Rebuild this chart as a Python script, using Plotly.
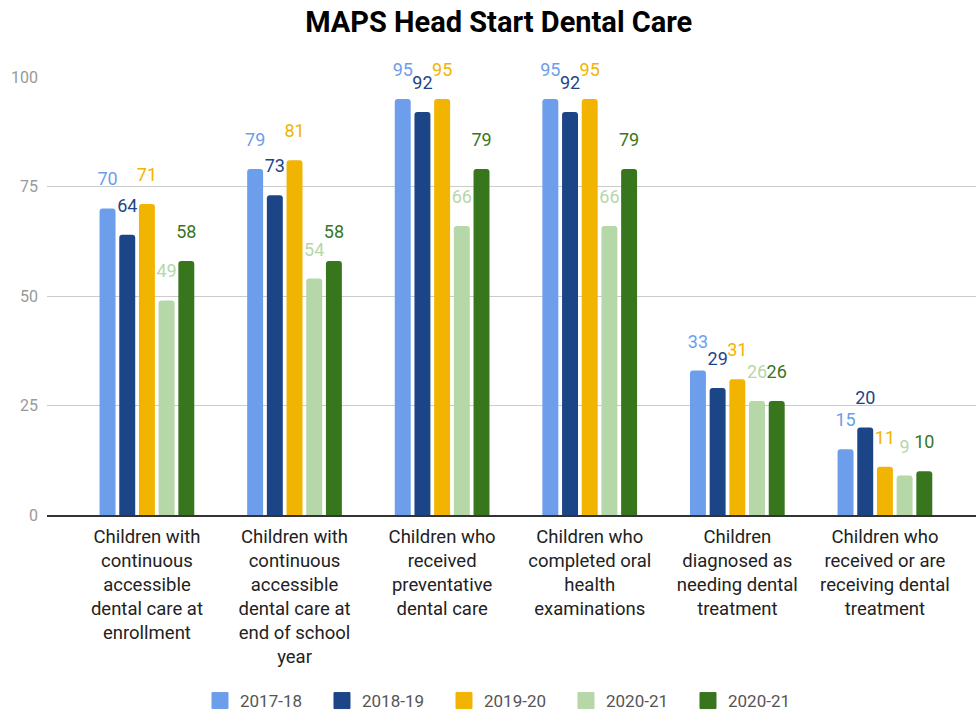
import plotly.graph_objects as go

categories = [
    "Children with<br>continuous<br>accessible<br>dental care at<br>enrollment",
    "Children with<br>continuous<br>accessible<br>dental care at<br>end of school<br>year",
    "Children who<br>received<br>preventative<br>dental care",
    "Children who<br>completed oral<br>health<br>examinations",
    "Children<br>diagnosed as<br>needing dental<br>treatment",
    "Children who<br>received or are<br>receiving dental<br>treatment",
]
series_names = ["2017-18", "2018-19", "2019-20", "2020-21", "2020-21"]
v_2017_18 = [70, 79, 95, 95, 33, 15]
v_2018_19 = [64, 73, 92, 92, 29, 20]
v_2019_20 = [71, 81, 95, 95, 31, 11]
v_2020_21a = [49, 54, 66, 66, 26, 9]
v_2020_21b = [58, 58, 79, 79, 26, 10]
series_values = [v_2017_18, v_2018_19, v_2019_20, v_2020_21a, v_2020_21b]
colors = ["#6d9eeb", "#1c4587", "#f1b400", "#b6d7a8", "#38761d"]
y_ticks = [0, 25, 50, 75, 100]

FONT = "Roboto, 'Noto Sans', sans-serif"

fig = go.Figure()
for i, (name, vals, col) in enumerate(zip(series_names, series_values, colors)):
    fig.add_trace(go.Bar(
        x=categories, y=vals, name=name,
        marker=dict(color=col, line=dict(width=0)),
        # value on first line (18px); a small blank line below lifts it above the bar
        text=[f"<span style='font-size:18px'>{v}</span><br>\u00a0" for v in vals],
        textposition="outside",
        constraintext="none",
        textfont=dict(color=col, size=13, family=FONT),
        cliponaxis=False,
        hoverinfo="skip",
        showlegend=False,
        legendgroup=f"s{i}",
    ))
    # legend proxy with a larger square swatch
    fig.add_trace(go.Scatter(
        x=[None], y=[None], mode="markers", name=name,
        marker=dict(symbol="square", size=16, color=col, line=dict(width=1, color=col)),
        showlegend=True, legendgroup=f"s{i}", hoverinfo="skip",
    ))

fig.update_layout(
    width=976, height=711,
    barmode="group", bargap=0.333, bargroupgap=0.19,
    barcornerradius=3,
    paper_bgcolor="white", plot_bgcolor="white",
    margin=dict(l=47, r=0, t=77, b=196, autoexpand=False),
    title=dict(text="<b>MAPS Head Start Dental Care</b>", x=0.511, xanchor="center",
               y=0.969, yanchor="middle",
               font=dict(family=FONT, size=29, color="#000000")),
    font=dict(family=FONT),
    uniformtext=dict(mode=False),
    showlegend=True,
    legend=dict(orientation="h", x=0.493, xanchor="center", y=-0.4247, yanchor="middle",
                xref="paper", yref="paper",
                font=dict(size=17, color="#555555", family=FONT),
                entrywidth=77, entrywidthmode="pixels", traceorder="normal"),
)
fig.update_xaxes(
    type="category", range=[-0.677, 5.617],
    showgrid=False, showline=True, linecolor="#333333", linewidth=1.5,
    ticks="", tickfont=dict(size=18.5, color="#222222", family=FONT),
    ticklabelstandoff=4,
)
fig.update_yaxes(
    range=[0, 100], tickvals=y_ticks, ticktext=[str(t) for t in y_ticks],
    showgrid=True, gridcolor="#cccccc", gridwidth=1,
    zeroline=False, showline=False, ticks="",
    tickfont=dict(size=16, color="#999999", family=FONT),
    ticklabelstandoff=8,
)
fig.write_html("out.html", config={"displayModeBar": False},
               post_script="document.body.style.margin='0px';")
